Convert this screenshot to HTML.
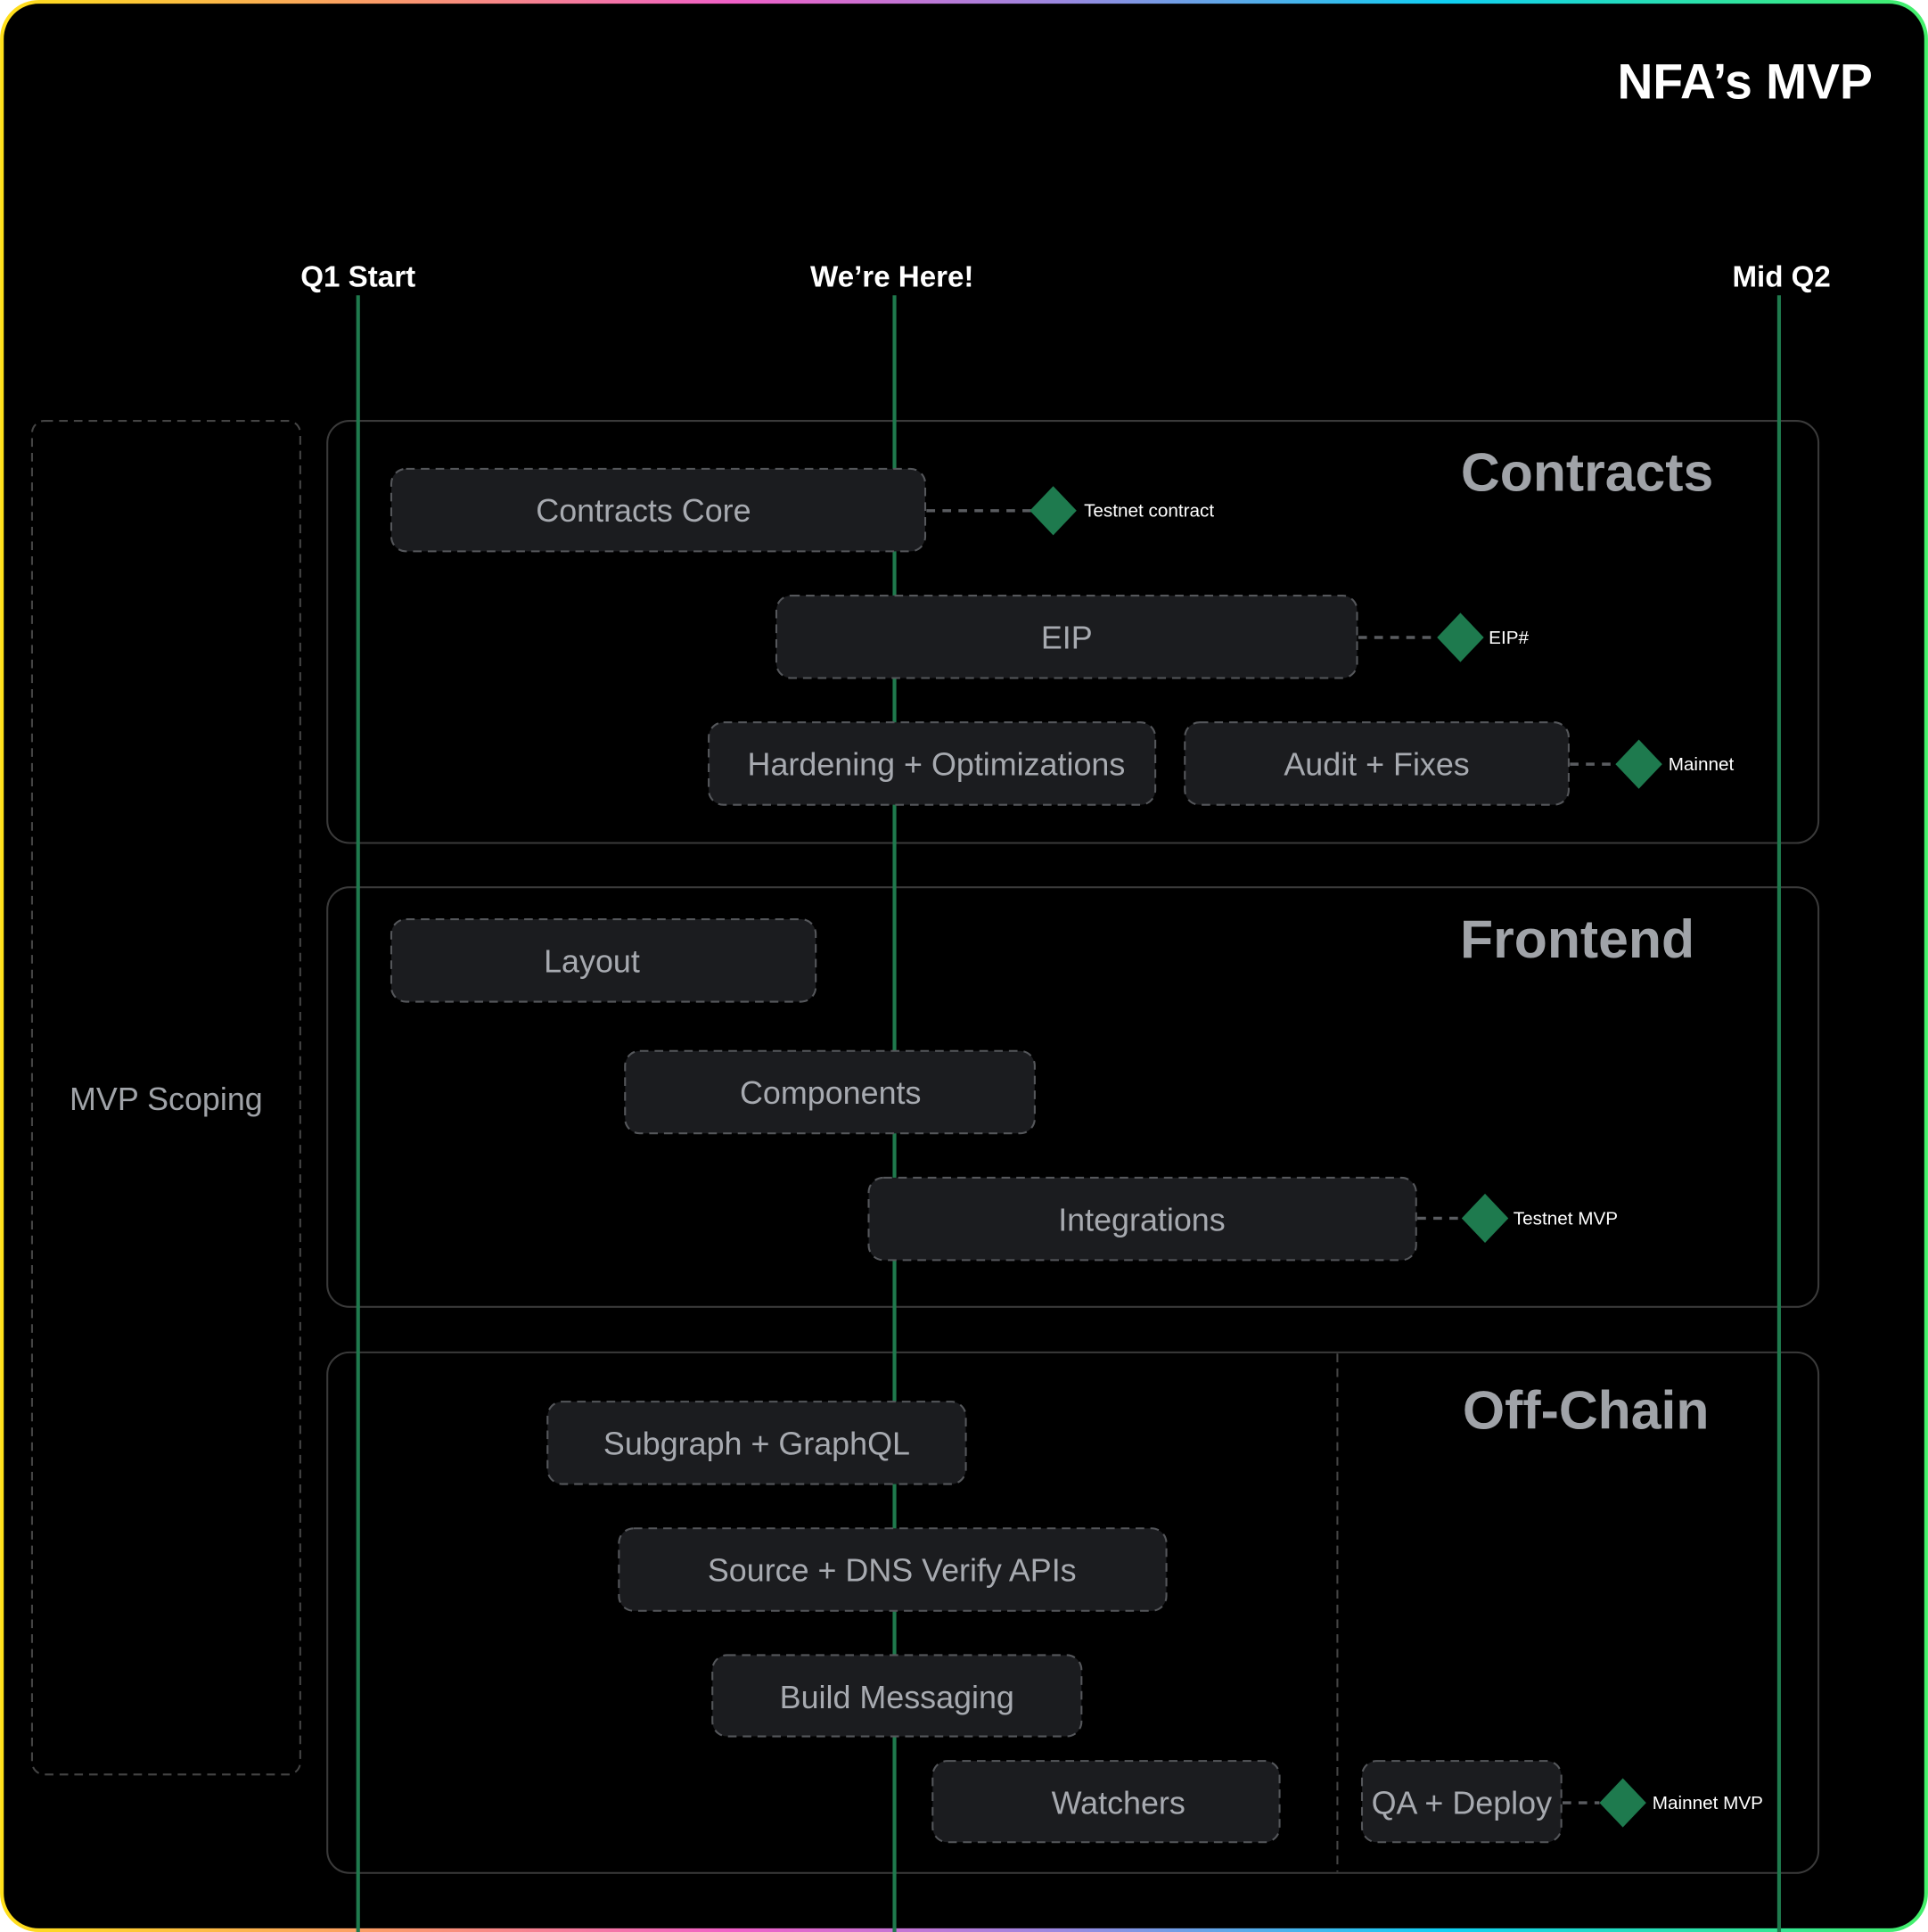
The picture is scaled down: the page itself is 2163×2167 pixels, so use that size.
<!DOCTYPE html>
<html><head><meta charset="utf-8"><style>
html,body{margin:0;padding:0;background:#fff;}
svg{display:block;}
text{font-family:"Liberation Sans",sans-serif;}
</style></head><body>
<svg width="2163" height="2167" viewBox="0 0 1567 1570" xmlns="http://www.w3.org/2000/svg">
<defs>
<linearGradient id="g" x1="0" y1="0" x2="1" y2="0">
<stop offset="0" stop-color="#ffe01a"/>
<stop offset="0.2" stop-color="#fb9a6a"/>
<stop offset="0.38" stop-color="#f060c8"/>
<stop offset="0.55" stop-color="#9b88e0"/>
<stop offset="0.75" stop-color="#10d0f4"/>
<stop offset="1" stop-color="#44f06a"/>
</linearGradient>
</defs>
<rect x="0" y="0" width="1567" height="1570" fill="#fff"/>
<rect x="1.5" y="1.5" width="1564" height="1567" rx="30" fill="#000" stroke="url(#g)" stroke-width="3"/>
<text x="1522" y="80" text-anchor="end" fill="#fff" font-size="40" font-weight="bold">NFA’s MVP</text>
<g fill="#fff" font-size="24" text-anchor="middle" font-weight="bold">
<text x="291" y="233">Q1 Start</text>
<text x="725" y="233">We’re Here!</text>
<text x="1448" y="233">Mid Q2</text>
</g>
<rect x="26" y="342" width="218" height="1100" rx="10" fill="none" stroke="#444" stroke-width="1.5" stroke-dasharray="7 5"/>
<text x="135" y="902" text-anchor="middle" fill="#a0a3a8" font-size="26">MVP Scoping</text>
<g fill="none" stroke="#3a3a3a" stroke-width="1.5">
<rect x="266" y="342" width="1212" height="343" rx="18"/>
<rect x="266" y="721" width="1212" height="341" rx="18"/>
<rect x="266" y="1099" width="1212" height="423" rx="18"/>
</g>
<line x1="1087" y1="1100" x2="1087" y2="1521" stroke="#444" stroke-width="1.5" stroke-dasharray="7 5"/>
<g fill="#a0a3a8" font-size="44" font-weight="bold" text-anchor="middle">
<text x="1290" y="399">Contracts</text>
<text x="1282" y="778">Frontend</text>
<text x="1289" y="1161">Off-Chain</text>
</g>
<g stroke="#1f7a4d" stroke-width="3">
<line x1="291" y1="240" x2="291" y2="1570"/>
<line x1="727" y1="240" x2="727" y2="1570"/>
<line x1="1446" y1="240" x2="1446" y2="1570"/>
</g>
<g stroke="#5a5c60" stroke-width="2.5" stroke-dasharray="7 6">
<line x1="753" y1="415" x2="838" y2="415"/>
<line x1="1104" y1="518" x2="1168" y2="518"/>
<line x1="1276" y1="621" x2="1313" y2="621"/>
<line x1="1152" y1="990" x2="1188" y2="990"/>
<line x1="1270" y1="1465" x2="1300" y2="1465"/>
</g>
<g fill="#1b1c1f" stroke="#55575b" stroke-width="1.5" stroke-dasharray="7 5">
<rect x="318" y="381" width="434" height="67" rx="12"/>
<rect x="631" y="484" width="472" height="67" rx="12"/>
<rect x="576" y="587" width="363" height="67" rx="12"/>
<rect x="963" y="587" width="312" height="67" rx="12"/>
<rect x="318" y="747" width="345" height="67" rx="12"/>
<rect x="508" y="854" width="333" height="67" rx="12"/>
<rect x="706" y="957" width="445" height="67" rx="12"/>
<rect x="445" y="1139" width="340" height="67" rx="12"/>
<rect x="503" y="1242" width="445" height="67" rx="12"/>
<rect x="579" y="1345" width="300" height="66" rx="12"/>
<rect x="758" y="1431" width="282" height="66" rx="12"/>
<rect x="1107" y="1431" width="162" height="66" rx="12"/>
</g>
<g fill="#a7aab0" font-size="26" text-anchor="middle">
<text x="523" y="424">Contracts Core</text>
<text x="867" y="527">EIP</text>
<text x="761" y="630">Hardening + Optimizations</text>
<text x="1119" y="630">Audit + Fixes</text>
<text x="481" y="790">Layout</text>
<text x="675" y="897">Components</text>
<text x="928" y="1000">Integrations</text>
<text x="615" y="1182">Subgraph + GraphQL</text>
<text x="725" y="1285">Source + DNS Verify APIs</text>
<text x="729" y="1388">Build Messaging</text>
<text x="909" y="1474">Watchers</text>
<text x="1188" y="1474">QA + Deploy</text>
</g>
<g fill="#1e7a4e">
<polygon points="856,395 875,415 856,435 837,415"/>
<polygon points="1187,498 1206,518 1187,538 1168,518"/>
<polygon points="1332,601 1351,621 1332,641 1313,621"/>
<polygon points="1207,970 1226,990 1207,1010 1188,990"/>
<polygon points="1319,1445 1338,1465 1319,1485 1300,1465"/>
</g>
<g fill="#fff" font-size="15">
<text x="881" y="420">Testnet contract</text>
<text x="1210" y="523">EIP#</text>
<text x="1356" y="626">Mainnet</text>
<text x="1230" y="995">Testnet MVP</text>
<text x="1343" y="1470">Mainnet MVP</text>
</g>
</svg>
</body></html>
